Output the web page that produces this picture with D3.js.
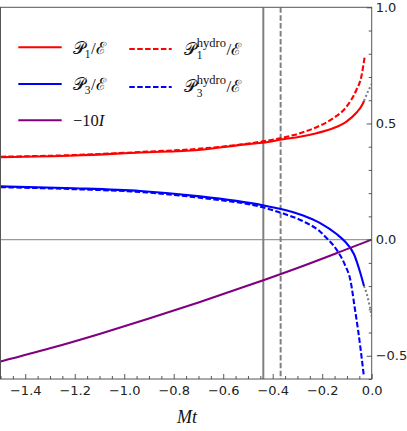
<!DOCTYPE html>
<html><head><meta charset="utf-8">
<script src="https://cdn.jsdelivr.net/npm/d3@7"></script>
<style>body{margin:0;background:#fff}svg{display:block}</style>
</head><body>
<svg id="c" width="407" height="431"></svg>
<script>
// ---- data ----
const xMajorTicks = [-1.4,-1.2,-1.0,-0.8,-0.6,-0.4,-0.2,0.0];
const xMinorTicks = [-1.5,-1.45,-1.35,-1.3,-1.25,-1.15,-1.1,-1.05,-0.95,-0.9,-0.85,-0.75,-0.7,-0.65,-0.55,-0.5,-0.45,-0.35,-0.3,-0.25,-0.15,-0.1,-0.05];
const yMajorTicks = [-0.5,0.0,0.5,1.0];
const yMinorTicks = [-0.6,-0.4,-0.3,-0.2,-0.1,0.1,0.2,0.3,0.4,0.6,0.7,0.8,0.9];

const p1T = [-1.5,-1.2,-0.935,-0.7,-0.492,-0.44,-0.358,-0.29,-0.223,-0.156,-0.102,-0.062,-0.035,-0.031];
const p1V = [0.355,0.362,0.375,0.386,0.412,0.417,0.432,0.443,0.458,0.479,0.508,0.546,0.587,0.597];
const p1hT = [-1.5,-1.2,-0.935,-0.7,-0.44,-0.358,-0.29,-0.223,-0.156,-0.102,-0.062,-0.042,-0.028];
const p1hV = [0.357,0.364,0.377,0.391,0.423,0.439,0.458,0.484,0.522,0.572,0.644,0.701,0.790];
const p3T = [-1.5,-1.2,-0.935,-0.694,-0.44,-0.371,-0.277,-0.21,-0.142,-0.109,-0.071,-0.048,-0.031];
const p3V = [0.229,0.221,0.209,0.186,0.148,0.133,0.104,0.072,0.024,-0.007,-0.064,-0.136,-0.200];
const p3hT = [-1.5,-1.2,-0.935,-0.694,-0.44,-0.371,-0.277,-0.21,-0.176,-0.142,-0.109,-0.085,-0.069,-0.055,-0.045,-0.032];
const p3hV = [0.226,0.217,0.205,0.180,0.139,0.117,0.079,0.036,0.0,-0.043,-0.107,-0.18,-0.29,-0.39,-0.47,-0.585];
const ext1T = [-0.031,-0.015,0.0];
const ext1V = [0.597,0.638,0.670];
const ext3T = [-0.031,-0.021,-0.008,0.0];
const ext3V = [-0.200,-0.230,-0.287,-0.330];
const iT = [-1.5,-1.3,-1.1,-0.9,-0.7,-0.5,-0.3,-0.1,0.0];
const iV = [-0.525,-0.468,-0.406,-0.340,-0.271,-0.198,-0.122,-0.041,0.0];
const vSolidT = -0.438;
const vDashT = -0.368;

// ---- layout ----
const L = 0.5, R = 371.7, T = 7.3, B = 379;
const svg = d3.select("#c");
const x = d3.scaleLinear().domain([-1.5, 0]).range([L, R]);
const y = d3.scaleLinear().domain([-0.6, 1.0]).range([B, T]);

svg.append("clipPath").attr("id","clip").append("rect")
  .attr("x",L).attr("y",T).attr("width",R-L).attr("height",B-T);
const plot = svg.append("g").attr("clip-path","url(#clip)");

// reference lines
plot.append("line").attr("x1",L).attr("x2",R).attr("y1",y(0)).attr("y2",y(0))
  .attr("stroke","#999").attr("stroke-width",1.1);
plot.append("line").attr("x1",x(vSolidT)).attr("x2",x(vSolidT)).attr("y1",T).attr("y2",B)
  .attr("stroke","#808080").attr("stroke-width",2);
plot.append("line").attr("x1",x(vDashT)).attr("x2",x(vDashT)).attr("y1",T).attr("y2",B)
  .attr("stroke","#808080").attr("stroke-width",2).attr("stroke-dasharray","5.5,2.4");

const line = d3.line().x(d=>x(d[0])).y(d=>y(d[1])).curve(d3.curveMonotoneX);
const zip = (a,b)=>a.map((v,i)=>[v,b[i]]);
function draw(tA, vA, color, dash){
  const p = plot.append("path").attr("d", line(zip(tA,vA)))
    .attr("fill","none").attr("stroke",color).attr("stroke-width",2.1)
    .attr("stroke-linejoin","round");
  if (dash) p.attr("stroke-dasharray", dash);
  return p;
}
draw(ext1T, ext1V, "#808080", "2,2.3");
draw(ext3T, ext3V, "#808080", "2,2.3");
draw(p1T, p1V, "#ff0000");
draw(p1hT, p1hV, "#ff0000", "5.5,2.4");
draw(p3T, p3V, "#0000ff");
draw(p3hT, p3hV, "#0000ff", "5.5,2.4");
draw(iT, iV, "#800080");

// frame
svg.append("rect").attr("x",L).attr("y",T).attr("width",R-L).attr("height",B-T)
  .attr("fill","none").attr("stroke","#555").attr("stroke-width",1);

// axes
const tickFont = "DejaVu Sans, sans-serif";
const xAx = svg.append("g").attr("transform",`translate(0,${B})`)
  .call(d3.axisBottom(x).tickValues(xMajorTicks).tickSize(-5).tickPadding(7).tickFormat(d3.format(".1f")));
const xAxm = svg.append("g").attr("transform",`translate(0,${B})`)
  .call(d3.axisBottom(x).tickValues(xMinorTicks).tickSize(-3).tickFormat(""));
const yAx = svg.append("g").attr("transform",`translate(${R},0)`)
  .call(d3.axisRight(y).tickValues(yMajorTicks).tickSize(-5).tickPadding(4).tickFormat(d3.format(".1f")));
const yAxm = svg.append("g").attr("transform",`translate(${R},0)`)
  .call(d3.axisRight(y).tickValues(yMinorTicks).tickSize(-3).tickFormat(""));
[xAx,xAxm,yAx,yAxm].forEach(g=>{
  g.select(".domain").remove();
  g.selectAll("line").attr("stroke","#444").attr("stroke-width",0.9);
  g.selectAll("text").attr("font-family",tickFont).attr("font-size",13).attr("fill","#222");
});

// axis label
svg.append("text").attr("x",187).attr("y",423).attr("text-anchor","middle")
  .attr("font-family","Liberation Serif, DejaVu Serif, serif").attr("font-style","italic")
  .attr("font-size",18).attr("fill","#111").text("Mt");

// legend
const mathFont = "Liberation Serif, DejaVu Serif, serif";
const leg = svg.append("g");
const rows = [
  {x1:18.3, x2:61.7, y:47.3, color:"#ff0000", dash:null},
  {x1:18.3, x2:61.7, y:84, color:"#0000ff", dash:null},
  {x1:18.3, x2:61.7, y:120.3, color:"#800080", dash:null},
  {x1:129.3, x2:171.7, y:49, color:"#ff0000", dash:"5.5,2.4"},
  {x1:129.3, x2:171.7, y:87, color:"#0000ff", dash:"5.5,2.4"}
];
rows.forEach(r=>{
  const l = leg.append("line").attr("x1",r.x1).attr("x2",r.x2).attr("y1",r.y).attr("y2",r.y)
    .attr("stroke",r.color).attr("stroke-width",2.1);
  if (r.dash) l.attr("stroke-dasharray", r.dash);
});
function txt(x0,y0,s,size,style){
  const t = leg.append("text").attr("x",x0).attr("y",y0).attr("font-family",mathFont)
    .attr("font-size",size).attr("fill","#111").text(s);
  if (style) t.attr("font-style",style);
  return t;
}
function simpleLabel(x0, base, sub){
  const a = txt(x0, base, "\u{1D4AB}", 17);
  const w = a.node().getComputedTextLength();
  const s = txt(x0+w, base+4, sub, 11.5);
  const ws = s.node().getComputedTextLength();
  txt(x0+w+ws+0.5, base, "/\u2130", 17);
}
function hydroLabel(x0, base, sub){
  const a = txt(x0, base, "\u{1D4AB}", 17);
  const w = a.node().getComputedTextLength();
  const h = txt(x0+w+0.5, base-8, "hydro", 12.5);
  const wh = h.node().getComputedTextLength();
  txt(x0+w+0.5, base+4.5, sub, 11.5);
  txt(x0+w+wh+1, base, "/\u2130", 17);
}
simpleLabel(72.7, 53.5, "1");
simpleLabel(72.7, 90.3, "3");
hydroLabel(184.3, 54.5, "1");
hydroLabel(184.3, 92.3, "3");
// −10I
const m = txt(73, 126, "\u221210", 16.5);
const wm = m.node().getComputedTextLength();
txt(73+wm, 126, "I", 16.5, "italic");
</script>
</body></html>
